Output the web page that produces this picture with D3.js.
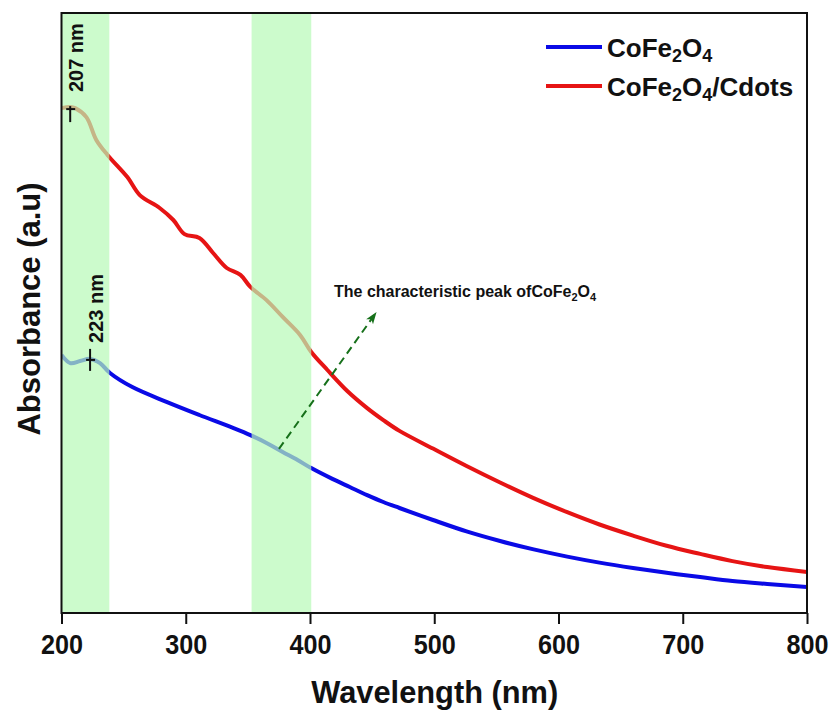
<!DOCTYPE html>
<html lang="en">
<head>
  <meta charset="UTF-8">
  <title>UV-Vis absorbance</title>
  <style>
    body { margin: 0; background: #fff; }
    svg { display: block; }
    .bold { font-family: "Liberation Sans", Arial, sans-serif; font-weight: bold; }
  </style>
</head>
<body>
  <script src="https://d3js.org/d3.v7.min.js"></script>
  <script>
    const width = 830, height = 711;

    // wavelength (nm) and absorbance (a.u.)
    const cdotsWave = [200, 207, 211, 220, 228, 237, 253, 263, 279, 290, 299, 311, 322, 333, 344, 352, 365, 378, 392, 401,
      414, 430, 446, 459, 472, 499, 526, 553, 580, 607, 633, 660, 687, 714, 740, 768, 800];
    const cdotsAbs = [1.683, 1.687, 1.683, 1.653, 1.577, 1.527, 1.453, 1.393, 1.350, 1.310, 1.263, 1.250, 1.200, 1.150, 1.127,
      1.087, 1.043, 0.987, 0.927, 0.870, 0.810, 0.740, 0.683, 0.643, 0.607, 0.548, 0.490, 0.435, 0.383, 0.336, 0.295,
      0.258, 0.224, 0.197, 0.173, 0.153, 0.137];

    const cofeWave = [200, 207, 215, 223, 231, 239, 257, 285, 311, 338, 352, 365, 378, 390, 401, 418, 432, 446, 459, 472, 499,
      526, 553, 580, 607, 633, 660, 687, 714, 740, 768, 800];
    const cofeAbs = [0.860, 0.833, 0.840, 0.847, 0.833, 0.800, 0.753, 0.703, 0.660, 0.617, 0.593, 0.567, 0.537, 0.510, 0.483,
      0.447, 0.420, 0.393, 0.370, 0.350, 0.310, 0.272, 0.240, 0.212, 0.188, 0.168, 0.150, 0.134, 0.120, 0.107, 0.097, 0.087];

    const bands = [[200, 238.5], [353, 401]];
    const xTicks = [200, 300, 400, 500, 600, 700, 800];
    const xMinor = [250, 350, 450, 550, 650, 750];
    const peaks = [
      { nm: 207, abs: 1.683, label: "207 nm", up: 2, down: 14 },
      { nm: 223, abs: 0.847, label: "223 nm", up: 10, down: 12 }
    ];

    const margin = { left: 61.5, right: 23, top: 13, bottom: 98 };
    const x = d3.scaleLinear().domain([200, 800]).range([margin.left, width - margin.right]);
    const y = d3.scaleLinear().domain([0, 2]).range([height - margin.bottom, margin.top]);
    const x0 = x.range()[0], x1 = x.range()[1], yb = y.range()[0], yt = y.range()[1];

    const svg = d3.select("body").append("svg")
      .attr("width", width)
      .attr("height", height);

    const defs = svg.append("defs");
    defs.append("clipPath").attr("id", "plot")
      .append("rect").attr("x", x0).attr("y", yt).attr("width", x1 - x0).attr("height", yb - yt);

    const line = d3.line()
      .x(d => x(d[0]))
      .y(d => y(d[1]))
      .curve(d3.curveCatmullRom.alpha(0.5));

    const series = [
      { name: "CoFe2O4", color: "#0a0ae6", data: d3.zip(cofeWave, cofeAbs) },
      { name: "CoFe2O4/Cdots", color: "#e61414", data: d3.zip(cdotsWave, cdotsAbs) }
    ];

    const g = svg.append("g").attr("clip-path", "url(#plot)");
    g.selectAll("path.curve")
      .data(series)
      .enter()
      .append("path")
      .attr("class", "curve")
      .attr("d", d => line(d.data))
      .attr("fill", "none")
      .attr("stroke", d => d.color)
      .attr("stroke-width", 4);

    // translucent green bands laid over the curves
    g.selectAll("rect.band")
      .data(bands)
      .enter()
      .append("rect")
      .attr("class", "band")
      .attr("x", d => x(d[0]))
      .attr("width", d => x(d[1]) - x(d[0]))
      .attr("y", yt)
      .attr("height", yb - yt)
      .attr("fill", "rgb(182,250,182)")
      .attr("opacity", 0.7);

    // frame
    svg.append("rect")
      .attr("x", x0).attr("y", yt)
      .attr("width", x1 - x0).attr("height", yb - yt)
      .attr("fill", "none").attr("stroke", "#111").attr("stroke-width", 2);

    // x axis
    const xAxis = svg.append("g").attr("transform", `translate(0,${yb})`);
    xAxis.call(d3.axisBottom(x).tickValues(xMinor).tickSize(6).tickFormat(""));
    xAxis.call(d3.axisBottom(x).tickValues(xTicks).tickSize(11).tickFormat(d3.format("d")));
    xAxis.select(".domain").remove();
    xAxis.selectAll("line").attr("stroke", "#111").attr("stroke-width", 2);
    xAxis.selectAll("text")
      .attr("class", "bold")
      .attr("y", 41)
      .attr("dy", null)
      .attr("transform", "scale(0.9,1)")
      .attr("font-size", 28)
      .attr("fill", "#111");

    svg.append("text")
      .attr("class", "bold")
      .attr("x", (x0 + x1) / 2 - 123)
      .attr("y", 703)
      .attr("textLength", 247)
      .attr("lengthAdjust", "spacingAndGlyphs")
      .attr("font-size", 32)
      .attr("fill", "#111")
      .text("Wavelength (nm)");

    svg.append("text")
      .attr("class", "bold")
      .attr("transform", `translate(40,${(yt + yb) / 2 - 4}) rotate(-90)`)
      .attr("text-anchor", "middle")
      .attr("font-size", 31)
      .attr("fill", "#111")
      .text("Absorbance (a.u)");

    // peak markers
    const pk = svg.selectAll("g.peak")
      .data(peaks)
      .enter()
      .append("g")
      .attr("class", "peak");
    pk.append("line")
      .attr("x1", d => x(d.nm)).attr("x2", d => x(d.nm))
      .attr("y1", d => y(d.abs) - d.up).attr("y2", d => y(d.abs) + d.down)
      .attr("stroke", "#111").attr("stroke-width", 2);
    pk.append("line")
      .attr("x1", d => x(d.nm) - 4).attr("x2", d => x(d.nm) + 5)
      .attr("y1", d => y(d.abs) + 1).attr("y2", d => y(d.abs) + 1)
      .attr("stroke", "#111").attr("stroke-width", 2);
    pk.append("text")
      .attr("class", "bold")
      .attr("transform", d => `translate(${x(d.nm) + 13},${y(d.abs) - 16}) rotate(-90)`)
      .attr("font-size", 20)
      .attr("fill", "#111")
      .text(d => d.label);

    // annotation arrow
    defs.append("marker")
      .attr("id", "arrow")
      .attr("viewBox", "0 0 10 10")
      .attr("refX", 9).attr("refY", 5)
      .attr("markerWidth", 6).attr("markerHeight", 6)
      .attr("markerUnits", "strokeWidth")
      .attr("orient", "auto")
      .append("path")
      .attr("d", "M0,1.5 L10,5 L0,8.5 L2.5,5 Z")
      .attr("fill", "#16701a");

    svg.append("line")
      .attr("x1", x(375)).attr("y1", y(0.547))
      .attr("x2", x(453)).attr("y2", y(1.0))
      .attr("stroke", "#16701a")
      .attr("stroke-width", 2)
      .attr("stroke-dasharray", "8,5")
      .attr("marker-end", "url(#arrow)");

    const note = svg.append("text")
      .attr("class", "bold")
      .attr("x", 334)
      .attr("y", 297)
      .attr("font-size", 16)
      .attr("fill", "#111");
    note.append("tspan").text("The characteristic peak ofCoFe");
    note.append("tspan").attr("font-size", 11).attr("dy", 4).text("2");
    note.append("tspan").attr("dy", -4).text("O");
    note.append("tspan").attr("font-size", 11).attr("dy", 4).text("4");

    // legend
    const leg = svg.selectAll("g.legend")
      .data(series)
      .enter()
      .append("g")
      .attr("class", "legend")
      .attr("transform", (d, i) => `translate(546,${47 + i * 39})`);
    leg.append("line")
      .attr("x1", 0).attr("x2", 56)
      .attr("stroke", d => d.color)
      .attr("stroke-width", 4);
    const lt = leg.append("text")
      .attr("class", "bold")
      .attr("x", 61)
      .attr("y", 10)
      .attr("font-size", 26)
      .attr("fill", "#111");
    lt.append("tspan").text("CoFe");
    lt.append("tspan").attr("font-size", 18).attr("dy", 5).text("2");
    lt.append("tspan").attr("dy", -5).text("O");
    lt.append("tspan").attr("font-size", 18).attr("dy", 5).text("4");
    lt.filter(d => d.name.endsWith("Cdots"))
      .append("tspan").attr("dy", -5).text("/Cdots");
  </script>
</body>
</html>
